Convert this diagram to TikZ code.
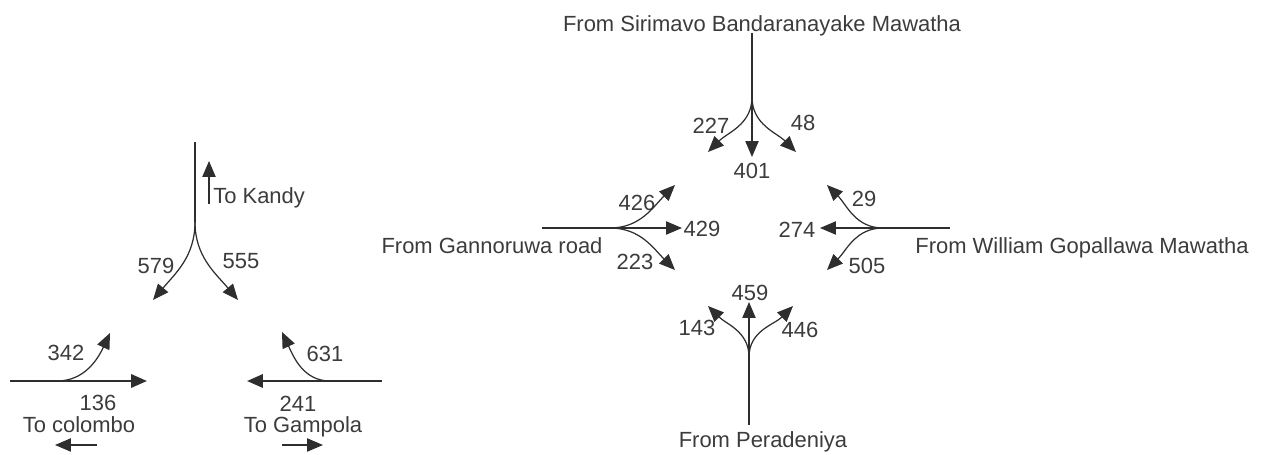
\documentclass[tikz,border=0pt]{standalone}
\usepackage{fontspec}
\setmainfont{Liberation Sans}
\usetikzlibrary{arrows.meta}
\definecolor{ink}{HTML}{2E2E2E}
\definecolor{txtgray}{HTML}{3C3C3C}
\tikzset{
  road/.style={draw=ink, line width=1.4pt},
  tip/.style={-{Triangle[length=9pt,width=7.5pt]}},
  flow/.style={draw=ink, line width=0.7pt, tip},
  cnt/.style={text=txtgray, inner sep=0pt, font=\fontsize{12.5}{15}\selectfont,
    text height=9pt, text depth=0pt},
}
\begin{document}
\begin{tikzpicture}[x=0.02cm, y=-0.02cm]
    \useasboundingbox (0,0) rectangle (1262,455);

    % left junction
    \coordinate (kandyend) at (195,142);
    \coordinate (kandysplit) at (195,222);
    \coordinate (kandyleft) at (153,300);
    \coordinate (kandyright) at (238,300);
    \coordinate (kandyfoot) at (209,204);
    \coordinate (kandyhead) at (209,161);
    \node[cnt, anchor=west] (kandy) at (213,196) {To Kandy};
    \node[cnt] (n579) at (156,266) {579};
    \node[cnt] (n555) at (241,261) {555};

    \coordinate (colwest) at (10,381);
    \coordinate (colturn) at (57,381);
    \coordinate (coleast) at (147,381);
    \coordinate (colup) at (110,333);
    \coordinate (colfoot) at (97,445);
    \coordinate (colhead) at (55,445);
    \node[cnt] (n342) at (66,353) {342};
    \node[cnt] (n136) at (98,403) {136};
    \node[cnt] (colombo) at (79,425) {To colombo};

    \coordinate (gameast) at (382,381);
    \coordinate (gamturn) at (330,381);
    \coordinate (gamwest) at (247,381);
    \coordinate (gamup) at (282,332);
    \coordinate (gamfoot) at (282,445);
    \coordinate (gamhead) at (323,445);
    \node[cnt] (n631) at (325,354) {631};
    \node[cnt] (n241) at (298,404) {241};
    \node[cnt] (gampola) at (303,425) {To Gampola};

    \draw[road] (kandyend) -- (kandysplit);
    \path (kandysplit)
    edge[flow, out=-90, in=50] (kandyleft)
    edge[flow, out=-90, in=130] (kandyright);
    \draw[flow] (kandyfoot) -- (kandyhead);

    \draw[road, tip] (colwest) -- (coleast);
    \draw[flow] (colturn) to[out=0, in=-115] (colup);
    \draw[flow] (colfoot) -- (colhead);

    \draw[road, tip] (gameast) -- (gamwest);
    \draw[flow] (gamturn) to[out=180, in=-65] (gamup);
    \draw[flow] (gamfoot) -- (gamhead);

    % right junction
    \node[cnt] (sirimavo) at (762,24) {From Sirimavo Bandaranayake Mawatha};
    \coordinate (nend) at (752,33);
    \coordinate (nsplit) at (752,97);
    \coordinate (nleft) at (708,152);
    \coordinate (nstraight) at (752,157);
    \coordinate (nright) at (796,152);
    \node[cnt] (n227) at (711,126) {227};
    \node[cnt] (n48) at (803,123) {48};
    \node[cnt] (n401) at (752,171) {401};

    \node[cnt] (gannoruwa) at (492,246) {From Gannoruwa road};
    \coordinate (wend) at (542,228);
    \coordinate (wsplit) at (610,228);
    \coordinate (wleft) at (675,185);
    \coordinate (wstraight) at (682,228);
    \coordinate (wright) at (675,270);
    \node[cnt] (n426) at (637,203) {426};
    \node[cnt] (n429) at (702,229) {429};
    \node[cnt] (n223) at (635,262) {223};

    \node[cnt] (gopallawa) at (1082,246) {From William Gopallawa Mawatha};
    \coordinate (eend) at (950,228);
    \coordinate (esplit) at (883,228);
    \coordinate (eright) at (827,185);
    \coordinate (estraight) at (820,228);
    \coordinate (eleft) at (827,270);
    \node[cnt] (n29) at (864,199) {29};
    \node[cnt] (n274) at (797,230) {274};
    \node[cnt] (n505) at (867,266) {505};

    \node[cnt] (peradeniya) at (763,440) {From Peradeniya};
    \coordinate (send) at (749,425);
    \coordinate (ssplit) at (749,357);
    \coordinate (sleft) at (708,306);
    \coordinate (sstraight) at (749,302);
    \coordinate (sright) at (793,306);
    \node[cnt] (n459) at (750,293) {459};
    \node[cnt] (n143) at (697,328) {143};
    \node[cnt] (n446) at (800,330) {446};

    \draw[road] (nend) -- (nsplit);
    \path (nsplit)
    edge[flow, out=-90, in=45] (nleft)
    edge[flow] (nstraight)
    edge[flow, out=-90, in=135] (nright);

    \draw[road] (wend) -- (wsplit);
    \path (wsplit)
    edge[flow, out=0, in=-135] (wleft)
    edge[flow] (wstraight)
    edge[flow, out=0, in=135] (wright);

    \draw[road] (eend) -- (esplit);
    \path (esplit)
    edge[flow, out=180, in=-45] (eright)
    edge[flow] (estraight)
    edge[flow, out=180, in=45] (eleft);

    \draw[road] (send) -- (ssplit);
    \path (ssplit)
    edge[flow, out=90, in=-45] (sleft)
    edge[flow] (sstraight)
    edge[flow, out=90, in=-135] (sright);
\end{tikzpicture}
\end{document}
